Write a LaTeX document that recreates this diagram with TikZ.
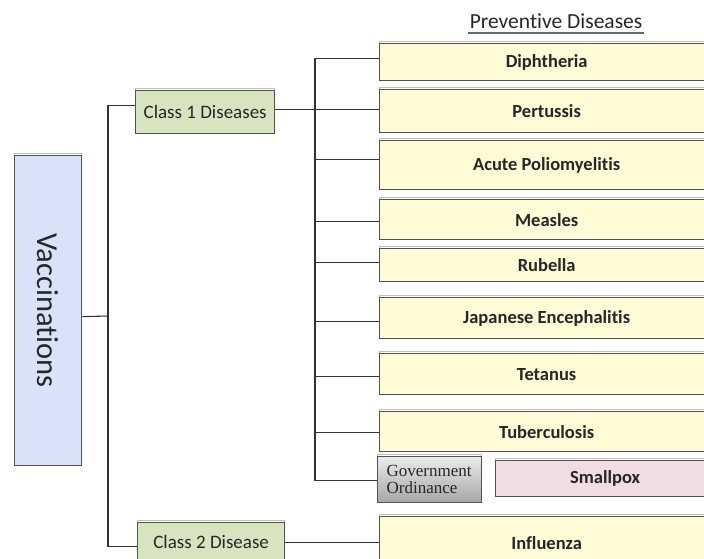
\documentclass[tikz,border=0pt]{standalone}
\usepackage{fontspec}
\setmainfont{Carlito}[Ligatures={NoCommon,NoRare}]
\newfontfamily\serifgov{Liberation Serif}
\begin{document}
\begin{tikzpicture}[x=1pt,y=-1pt,
  conn/.style={draw=black!80, line width=1.1pt},
  boxbase/.style={draw=black!68, line width=1.3pt, anchor=north west, inner sep=0pt,
     preaction={draw=black!25, line width=1.2pt, transform canvas={yshift=1.8pt}}},
  disbox/.style={boxbase, fill=yellowfill, font=\fontsize{18.5}{20}\selectfont\bfseries, text=black!85},
  classbox/.style={boxbase, fill=greenfill, font=\fontsize{19}{21}\selectfont, text=black!85},
  govbox/.style={boxbase, top color=black!8, bottom color=black!35, align=left,
     font=\serifgov\fontsize{17}{17}\selectfont, text=black!85},
  pinkbox/.style={boxbase, fill=pinkfill, font=\fontsize{18.5}{20}\selectfont\bfseries, text=black!85}
]
\definecolor{yellowfill}{HTML}{FFFBD7}
\definecolor{greenfill}{HTML}{D8E4C0}
\definecolor{bluefill}{HTML}{DAE2FA}
\definecolor{pinkfill}{HTML}{F2DCE4}
\useasboundingbox (0,0) rectangle (704,558);
\begin{scope}
\clip (0,0) rectangle (704,558);

% root
\node[boxbase, fill=bluefill, minimum width=67pt, minimum height=310pt] (vac) at (14,155) {};
\node[rotate=-90, font=\fontsize{30.5}{32}\selectfont, text=black!85] (vact) at (vac.center) {Vaccinations};

% class nodes
\node[classbox, minimum width=139pt, minimum height=43pt] (c1) at (135,90) {Class 1 Diseases};
\node[classbox, minimum width=147pt, minimum height=38pt] (c2) at (137,522) {Class 2 Disease};

% header
\node[font=\fontsize{21.5}{23}\selectfont, text=black!85, inner sep=0pt] (pd) at (556,21) {Preventive Diseases};
\draw[draw=black!60, line width=1.3pt] (468,33) -- (644,33);

% disease boxes
\node[disbox, minimum width=334pt, minimum height=37pt] (d1) at (379,43) {Diphtheria};
\node[disbox, minimum width=334pt, minimum height=43pt] (d2) at (379,89) {Pertussis};
\node[disbox, minimum width=334pt, minimum height=49pt] (d3) at (379,140) {Acute Poliomyelitis};
\node[disbox, minimum width=334pt, minimum height=40pt] (d4) at (379,199) {Measles};
\node[disbox, minimum width=334pt, minimum height=33pt] (d5) at (379,248) {Rubella};
\node[disbox, minimum width=334pt, minimum height=41pt] (d6) at (379,297) {Japanese Encephalitis};
\node[disbox, minimum width=334pt, minimum height=41pt] (d7) at (379,353) {Tetanus};
\node[disbox, minimum width=334pt, minimum height=40pt] (d8) at (379,411) {Tuberculosis};
\node[govbox, minimum width=104pt, minimum height=46pt, text width=86pt] (gov) at (377,456) {Government\\Ordinance};
\node[pinkbox, minimum width=219pt, minimum height=36pt] (sp) at (495,460) {Smallpox};
\node[disbox, minimum width=334pt, minimum height=52pt] (inf) at (379,516) {Influenza};

% connectors: root level
\coordinate (j1) at (108,316);
\draw[conn] ([yshift=-6pt]vac.east) -- (j1);
\draw[conn] ([yshift=6.5pt]c1.west) -| (j1) |- ([yshift=-5pt]c2.west);

% class 1 level
\coordinate (j2) at (315,109);
\draw[conn] ([yshift=2.5pt]c1.east) -- ([yshift=1.5pt]d2.west);
\draw[conn] ([yshift=3.5pt]d1.west) -| (j2);
\draw[conn] (j2) |- ([yshift=5.5pt]d3.west);
\draw[conn] (j2) |- ([yshift=-2pt]d4.west);
\draw[conn] (j2) |- ([yshift=2.5pt]d5.west);
\draw[conn] (j2) |- ([yshift=-3.5pt]d6.west);
\draw[conn] (j2) |- ([yshift=-2.5pt]d7.west);
\draw[conn] (j2) |- ([yshift=-1pt]d8.west);
\draw[conn] (j2) |- ([yshift=-1pt]gov.west);

% class 2 level
\draw[conn, line width=1.6pt] ([yshift=-1pt]c2.east) -- ([yshift=-1pt]c2.east -| inf.west);
\end{scope}
\end{tikzpicture}
\end{document}
